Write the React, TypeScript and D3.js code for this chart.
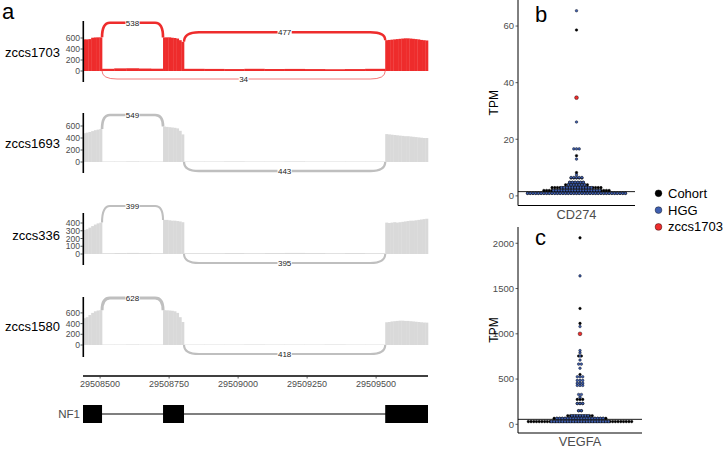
import * as d3 from "d3";

// ---- panel a: sashimi data ----
const regionStart = 29508438;
const regionEnd = 29509688;
const genomicTicks = [29508500, 29508750, 29509000, 29509250, 29509500];
const exonStarts = [29508438, 29508728, 29509533];
const exonEnds = [29508507, 29508804, 29509688];
const geneName = "NF1";

const sampleNames = ["zccs1703", "zccs1693", "zccs336", "zccs1580"];

// coverage values spread evenly over each exon / intron
const exonCov1703 = [
  [575, 575, 580, 605, 610, 612, 612],
  [610, 612, 612, 605, 600, 590, 560, 530],
  [560, 565, 570, 575, 580, 585, 590, 594, 594, 590, 585, 580, 575, 565, 560, 555],
];
const intronCov1703 = [
  [40, 48, 50, 45, 42],
  [40, 38, 35, 40, 36, 38, 35, 32, 35, 40],
];
const exonCov1693 = [
  [480, 490, 500, 515, 530, 540, 550],
  [590, 585, 580, 575, 570, 560, 520, 460],
  [465, 460, 455, 450, 445, 440, 435, 430, 430, 425, 420, 415, 410, 405, 400, 400],
];
const intronCov1693 = [
  [8, 8, 10, 8, 8],
  [8, 8, 10, 8, 8, 10, 8, 8, 8, 8],
];
const exonCov336 = [
  [310, 320, 340, 360, 380, 395, 405],
  [440, 440, 435, 430, 430, 425, 420, 410],
  [405, 400, 405, 410, 405, 410, 415, 420, 425, 430, 430, 435, 440, 445, 450, 455],
];
const intronCov336 = [
  [10, 12, 14, 12, 10],
  [10, 10, 12, 10, 12, 14, 12, 10, 12, 10],
];
const exonCov1580 = [
  [500, 520, 560, 600, 630, 645, 650],
  [650, 648, 645, 640, 630, 600, 520, 430],
  [425, 430, 440, 445, 450, 455, 455, 450, 450, 445, 440, 435, 430, 425, 420, 418],
];
const intronCov1580 = [
  [8, 8, 10, 8, 8],
  [8, 8, 8, 10, 8, 8, 8, 10, 8, 8],
];

type Junction = { from: number; to: number; count: number; below: boolean };
const junc1703: Junction[] = [
  { from: 0, to: 1, count: 538, below: false },
  { from: 1, to: 2, count: 477, below: false },
  { from: 0, to: 2, count: 34, below: true },
];
const junc1693: Junction[] = [
  { from: 0, to: 1, count: 549, below: false },
  { from: 1, to: 2, count: 443, below: true },
];
const junc336: Junction[] = [
  { from: 0, to: 1, count: 399, below: false },
  { from: 1, to: 2, count: 395, below: true },
];
const junc1580: Junction[] = [
  { from: 0, to: 1, count: 628, below: false },
  { from: 1, to: 2, count: 418, below: true },
];

const ticks1703 = [0, 200, 400, 600];
const ticks1693 = [0, 200, 400, 600];
const ticks336 = [0, 100, 200, 300, 400];
const ticks1580 = [0, 200, 400, 600];

// ---- panels b / c: dotplot bins [tpm, count] ----
type Bin = [number, number];
const cd274Cohort: Bin[] = [
  [0.9, 37], [1.9, 25], [2.9, 19], [3.9, 9], [4.8, 6], [6.3, 5], [8.2, 1], [14.2, 1], [58.6, 1],
];
const cd274Hgg: Bin[] = [
  [0.9, 37], [1.9, 18], [2.9, 12], [3.9, 7], [4.8, 6], [6.5, 5], [7.4, 1], [13, 1], [16.6, 3], [26.1, 1], [65.4, 1],
];
const cd274Case = 34.7;
const cd274Median = 1.5;
const cd274Ticks = [0, 20, 40, 60];

const vegfaCohort: Bin[] = [
  [30, 39], [66, 20], [95, 10], [150, 2], [230, 3], [275, 3], [550, 1], [755, 2], [1115, 1], [1280, 1], [2060, 1],
];
const vegfaHgg: Bin[] = [
  [30, 22], [66, 18], [95, 7], [150, 2], [230, 3], [300, 1], [330, 2], [430, 3], [455, 3], [485, 3], [525, 3],
  [620, 1], [665, 2], [710, 1], [755, 1], [790, 1], [815, 1], [1080, 1], [1640, 1],
];
const vegfaCase = 1000;
const vegfaMedian = 55;
const vegfaTicks = [0, 500, 1000, 1500, 2000];

const legendLabels = ["Cohort", "HGG", "zccs1703"];

// ---- styles ----
const FONT = "'Liberation Sans', Arial, sans-serif";
const RED = "#EE2C2C";
const GREY_FILL = "#D9D9D9";
const GREY_ARC = "#BFBFBF";
const BLUE = "#3f5fb0";
const TICK_TXT = "#4d4d4d";

const tracks = [
  { name: sampleNames[0], exonCov: exonCov1703, intronCov: intronCov1703, junctions: junc1703, ticks: ticks1703,
    zero: 71, px200: 11, top: 21, bottom: 82, lifts: [48.3, 38.7, 8], fill: RED, arc: RED },
  { name: sampleNames[1], exonCov: exonCov1693, intronCov: intronCov1693, junctions: junc1693, ticks: ticks1693,
    zero: 162, px200: 12, top: 113, bottom: 173, lifts: [47, 9], fill: GREY_FILL, arc: GREY_ARC },
  { name: sampleNames[2], exonCov: exonCov336, intronCov: intronCov336, junctions: junc336, ticks: ticks336,
    zero: 254, px200: 15.5, top: 213, bottom: 265, lifts: [48, 9], fill: GREY_FILL, arc: GREY_ARC },
  { name: sampleNames[3], exonCov: exonCov1580, intronCov: intronCov1580, junctions: junc1580, ticks: ticks1580,
    zero: 345, px200: 10.7, top: 297, bottom: 357, lifts: [47, 9], fill: GREY_FILL, arc: GREY_ARC },
];

const x = d3.scaleLinear().domain([regionStart, regionEnd]).range([83, 428]);
const arcWidth = d3.scaleLinear().domain([0, 628]).range([0.5, 3]);

function covBars(start: number, end: number, vals: number[]) {
  const w = (end - start) / vals.length;
  return vals.map((v, i) => ({ x0: start + i * w, x1: start + (i + 1) * w, v }));
}

function Track({ t }: { t: (typeof tracks)[number] }) {
  const y = d3.scaleLinear().domain([0, 200]).range([t.zero, t.zero - t.px200]);
  const bars = [
    ...t.exonCov.flatMap((vals, i) => covBars(exonStarts[i], exonEnds[i], vals)),
    ...t.intronCov.flatMap((vals, i) => covBars(exonEnds[i], exonStarts[i + 1], vals)),
  ];
  return (
    <g>
      {bars.map((b, i) => (
        <rect key={i} x={x(b.x0)} width={x(b.x1) - x(b.x0) + 0.3} y={y(b.v)} height={t.zero - y(b.v)} fill={t.fill} />
      ))}
      {t.junctions.map((j, i) => {
        const x1 = x(exonEnds[j.from]);
        const x2 = x(exonStarts[j.to]);
        const fromVals = t.exonCov[j.from];
        const y1 = j.below ? t.zero : y(fromVals[fromVals.length - 1]);
        const y2 = j.below ? t.zero : y(t.exonCov[j.to][0]);
        const yp = j.below ? t.zero + t.lifts[i] : t.zero - t.lifts[i];
        const r = Math.min(15, (x2 - x1) * 0.13);
        const p = d3.path();
        p.moveTo(x1, y1);
        p.quadraticCurveTo(x1, yp, x1 + r, yp);
        p.lineTo(x2 - r, yp);
        p.quadraticCurveTo(x2, yp, x2, y2);
        const label = String(j.count);
        const lw = label.length * 4.4 + 1;
        const mx = (x1 + x2) / 2;
        return (
          <g key={i}>
            <path d={p.toString()} fill="none" stroke={t.arc} strokeWidth={arcWidth(j.count)} />
            <rect x={mx - lw / 2} y={yp - 4} width={lw} height={8} fill="white" />
            <text x={mx} y={yp + 3} textAnchor="middle" fontSize={8} fill="#1a1a1a">{label}</text>
          </g>
        );
      })}
      <line x1={83.3} x2={83.3} y1={t.top} y2={t.bottom} stroke="black" strokeWidth={1.6} />
      {t.ticks.map((v) => (
        <g key={v}>
          <line x1={80.5} x2={83} y1={y(v)} y2={y(v)} stroke="#333" strokeWidth={0.8} />
          <text x={80} y={y(v) + 3} textAnchor="end" fontSize={8.6} fill={TICK_TXT}>{v}</text>
        </g>
      ))}
      <text x={60} y={t.zero - 14.5} textAnchor="end" fontSize={13} fill="black">{t.name}</text>
    </g>
  );
}

function dotPositions(bins: Bin[], cx: number, y: d3.ScaleLinear<number, number>, d: number) {
  return bins.flatMap(([v, n]) =>
    d3.range(n).map((i) => ({ x: cx + (i - (n - 1) / 2) * d, y: y(v) }))
  );
}

function DotPanel(props: {
  category: string; cohort: Bin[]; hgg: Bin[]; caseValue: number; median: number; ticks: number[];
  domain: [number, number]; top: number; bottom: number; right: number;
}) {
  const { category, cohort, hgg, caseValue, median, ticks, domain, top, bottom, right } = props;
  const left = 518;
  const y = d3.scaleLinear().domain(domain).range([bottom, top]);
  const xb = d3.scaleBand().domain([category]).range([left, right]);
  const cx = (xb(category) as number) + xb.bandwidth() / 2;
  const d = 2.72;
  const r = 1.3;
  return (
    <g>
      <line x1={left} x2={right} y1={y(median)} y2={y(median)} stroke="black" strokeWidth={0.9} />
      {dotPositions(cohort, cx, y, d).map((p, i) => (
        <circle key={"c" + i} cx={p.x} cy={p.y} r={r} fill="black" stroke="black" strokeWidth={0.4} />
      ))}
      {dotPositions(hgg, cx, y, d).map((p, i) => (
        <circle key={"h" + i} cx={p.x} cy={p.y} r={r} fill={BLUE} stroke="black" strokeWidth={0.4} />
      ))}
      <circle cx={cx} cy={y(caseValue)} r={1.9} fill={RED} stroke="black" strokeWidth={0.4} />
      <line x1={left} x2={left} y1={top} y2={bottom} stroke="black" strokeWidth={1} />
      <line x1={left} x2={right} y1={bottom} y2={bottom} stroke="black" strokeWidth={1} />
      {ticks.map((v) => (
        <g key={v}>
          <line x1={515.5} x2={left} y1={y(v)} y2={y(v)} stroke="#333" strokeWidth={0.8} />
          <text x={514} y={y(v) + 3.3} textAnchor="end" fontSize={9.5} fill={TICK_TXT}>{v}</text>
        </g>
      ))}
      <text x={cx} y={bottom + 13} textAnchor="middle" fontSize={12.8} fill={TICK_TXT}>{category}</text>
      <text transform={`translate(498,${(top + bottom) / 2}) rotate(-90)`} textAnchor="middle" fontSize={12} fill="black">TPM</text>
    </g>
  );
}

export default function App() {
  const legendColors = ["black", BLUE, RED];
  return (
    <svg width={724} height={449} style={{ position: "absolute", left: 0, top: 0, background: "white" }} fontFamily={FONT}>
      <text x={2} y={19} fontSize={22} fill="black">a</text>
      <text x={535} y={22} fontSize={22} fill="black">b</text>
      <text x={535} y={245} fontSize={22} fill="black">c</text>

      {tracks.map((t) => <Track key={t.name} t={t} />)}

      {/* genomic axis */}
      <line x1={x(regionStart)} x2={x(regionEnd)} y1={376} y2={376} stroke="black" strokeWidth={1.3} />
      {genomicTicks.map((v) => (
        <g key={v}>
          <line x1={x(v)} x2={x(v)} y1={376} y2={378.5} stroke="#333" strokeWidth={0.8} />
          <text x={x(v)} y={387} textAnchor="middle" fontSize={9} fill={TICK_TXT}>{v}</text>
        </g>
      ))}

      {/* gene model */}
      <text x={80} y={418} textAnchor="end" fontSize={11.5} fill={TICK_TXT}>{geneName}</text>
      <line x1={x(regionStart)} x2={x(regionEnd)} y1={414} y2={414} stroke="black" strokeWidth={1.2} />
      {exonStarts.map((s, i) => (
        <rect key={i} x={x(s)} width={x(exonEnds[i]) - x(s)} y={405} height={18} fill="black" />
      ))}

      <DotPanel category="CD274" cohort={cd274Cohort} hgg={cd274Hgg} caseValue={cd274Case} median={cd274Median}
        ticks={cd274Ticks} domain={[-3.4, 69.2]} top={0} bottom={205.5} right={635} />
      <DotPanel category="VEGFA" cohort={vegfaCohort} hgg={vegfaHgg} caseValue={vegfaCase} median={vegfaMedian}
        ticks={vegfaTicks} domain={[-96, 2180]} top={227} bottom={433} right={642} />

      {legendLabels.map((l, i) => (
        <g key={l}>
          <circle cx={658.5} cy={193.3 + i * 16.8} r={3.4} fill={legendColors[i]} stroke="black" strokeWidth={0.4} />
          <text x={668} y={197.8 + i * 16.8} fontSize={13} fill="black">{l}</text>
        </g>
      ))}
    </svg>
  );
}
